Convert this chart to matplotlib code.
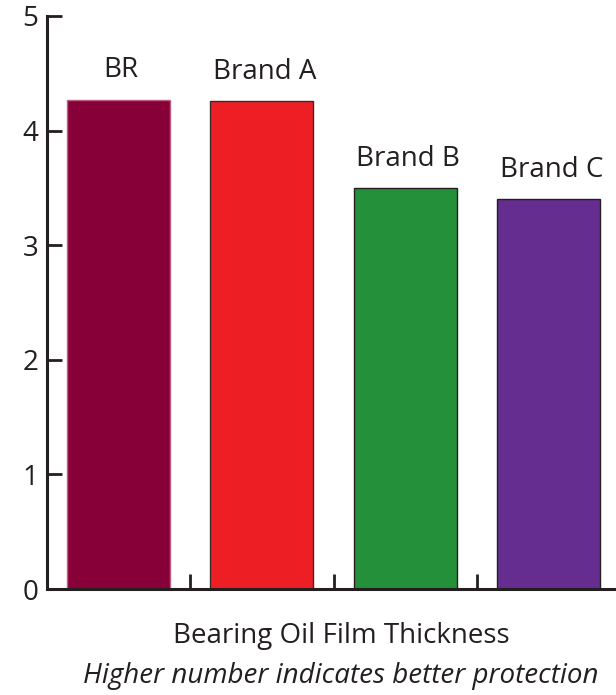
import matplotlib
matplotlib.use('Agg')
import matplotlib.pyplot as plt
import numpy as np

# values
brands = ['BR', 'Brand A', 'Brand B', 'Brand C']
thickness = [4.27, 4.26, 3.50, 3.40]
bar_colors = ['#870038', '#ED1F24', '#25903A', '#652D90']
edge_colors = ['#C06080', '#3a2a2a', '#231f20', '#231f20']
yticks = [0, 1, 2, 3, 4, 5]

plt.rcParams['font.family'] = ['Open Sans', 'DejaVu Sans']
ink = '#231f20'

W, H = 616, 695
fig = plt.figure(figsize=(W / 100, H / 100), dpi=100)
ax = fig.add_axes([46.5 / W, (H - 589) / H, 574 / W, (589 - 16) / H])

x = np.arange(len(brands))
bars = ax.bar(x, thickness, width=0.72, color=bar_colors,
              edgecolor=edge_colors, linewidth=1.0, zorder=2)

for xi, val, name in zip(x, thickness, brands):
    ax.annotate(name, (xi, val), xytext=(2, 16), textcoords='offset points',
                ha='center', va='baseline', fontsize=20, color=ink)

ax.set_xlim(-0.5, 3.5)
ax.set_ylim(0, 5)
ax.set_yticks(yticks)
ax.set_xticks(x[:-1] + 0.5)
ax.set_xticklabels([])
ax.tick_params(axis='y', direction='in', length=11, width=2, color=ink,
               labelsize=20, labelcolor=ink, pad=6)
ax.tick_params(axis='x', direction='in', length=11, width=2, color=ink)
for side in ['top', 'right']:
    ax.spines[side].set_visible(False)
for side in ['left', 'bottom']:
    ax.spines[side].set_linewidth(2.2)
    ax.spines[side].set_color(ink)

fig.text(341 / W, 1 - 636 / H, 'Bearing Oil Film Thickness',
         ha='center', va='center', fontsize=20, color=ink)
fig.text(341 / W, 1 - 676 / H, 'Higher number indicates better protection',
         ha='center', va='center', fontsize=20, color=ink, style='italic')

fig.savefig('out.png', dpi=100)
